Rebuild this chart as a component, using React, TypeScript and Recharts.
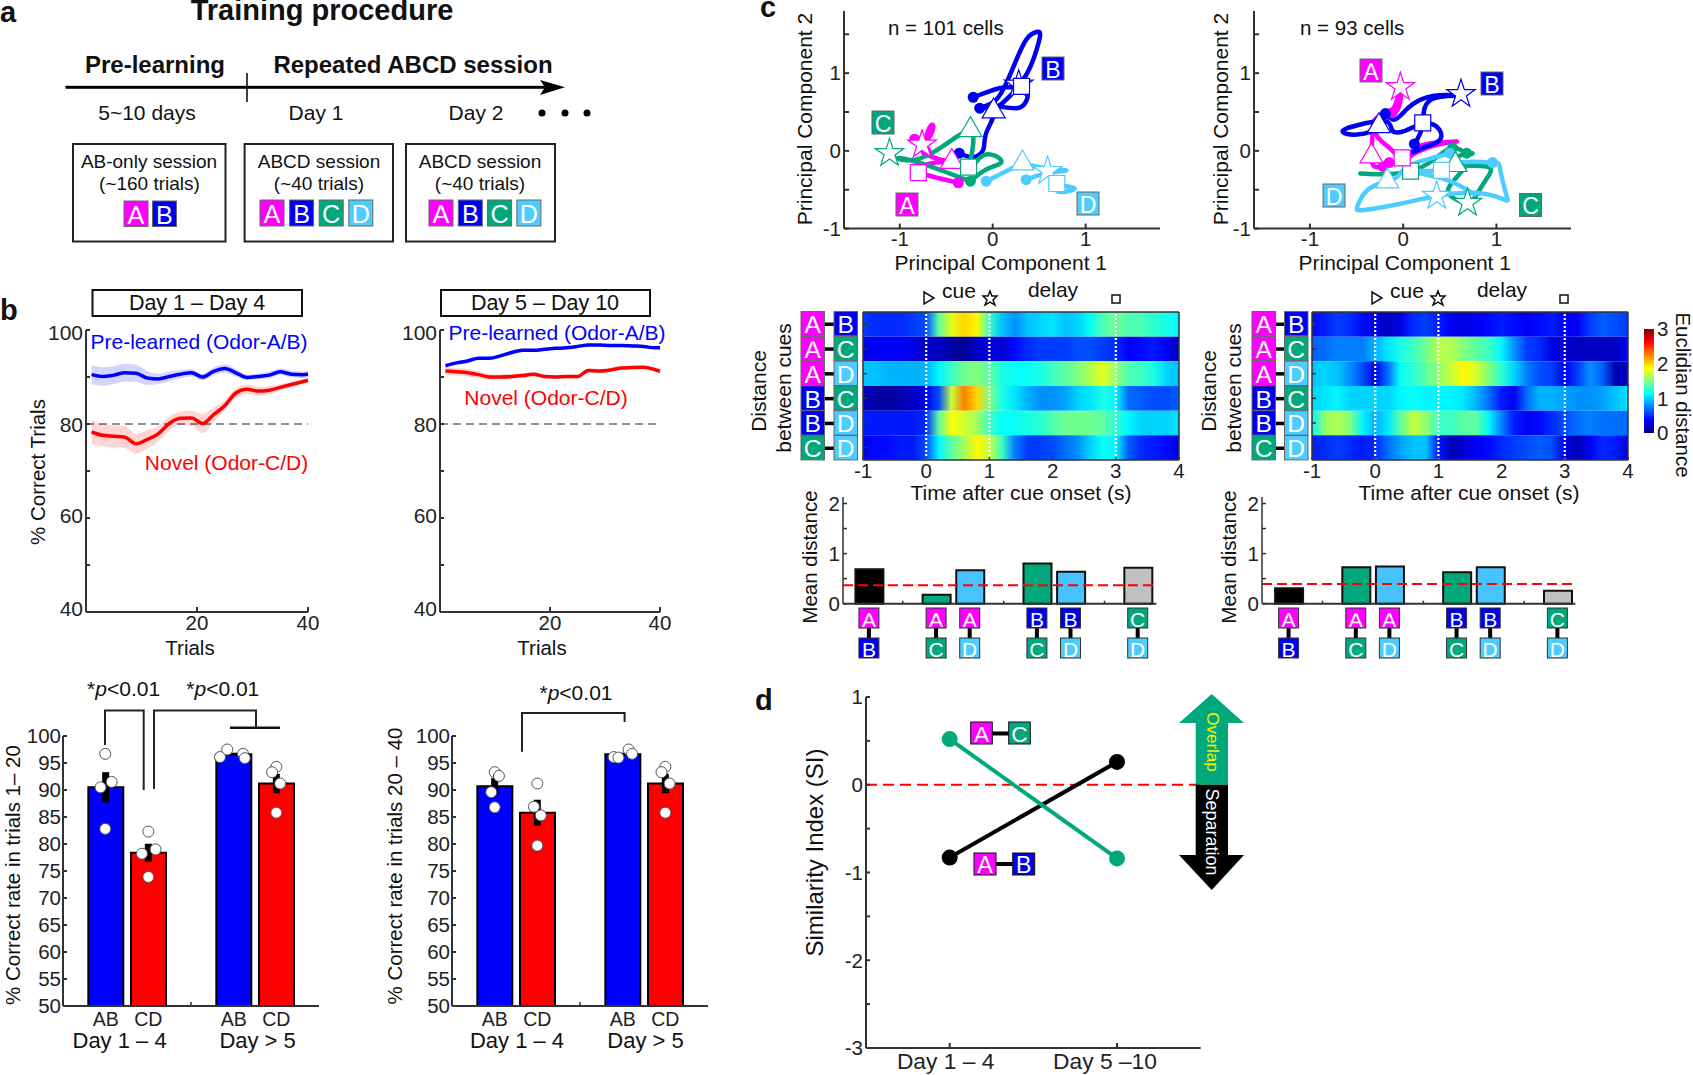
import {
  Area,
  Bar,
  Cell,
  ComposedChart,
  ErrorBar,
  Line,
  LineChart,
  ReferenceArea,
  ReferenceLine,
  Scatter,
  ScatterChart,
  Symbols,
  XAxis,
  YAxis,
} from "recharts";

const FONT = "'Liberation Sans', Arial, sans-serif";
const MAGENTA = "#ff00ff";
const BLUE = "#0000f0";
const GREEN = "#00a87c";
const SKY = "#4dccff";
const AXIS = "#333333";

// panel b, learning curves
const trials = [1, 3, 5, 7, 9, 11, 13, 15, 17, 19, 21, 23, 25, 27, 29, 31, 33, 35, 37, 39, 40];
const earlyAB = [90.5, 90.1, 90.4, 90.9, 90.8, 89.8, 89.6, 90.1, 90.6, 90.9, 90.0, 91.2, 91.8, 90.9, 89.9, 90.1, 90.4, 91.1, 90.6, 90.5, 90.6];
const earlyABErr = [2.0, 2.0, 1.9, 1.9, 1.8, 1.5, 1.1, 1.0, 0.9, 0.8, 0.7, 0.8, 0.9, 0.8, 0.6, 0.6, 0.7, 0.7, 0.7, 0.7, 0.7];
const earlyCD = [78.3, 77.6, 77.4, 77.2, 75.8, 76.7, 77.9, 80.1, 81.2, 81.3, 80.1, 82.0, 83.9, 86.6, 87.4, 87.0, 87.2, 87.8, 88.4, 89.0, 89.3];
const earlyCDErr = [2.5, 2.4, 2.3, 2.3, 2.1, 1.9, 1.6, 1.5, 1.4, 1.6, 2.0, 1.5, 1.1, 1.0, 1.0, 0.9, 0.85, 0.7, 0.6, 0.5, 0.4];
const lateAB = [92.4, 93.0, 93.4, 94.0, 94.0, 94.5, 95.2, 95.7, 95.7, 95.9, 96.1, 96.2, 96.5, 96.8, 96.8, 96.7, 96.7, 96.6, 96.5, 96.2, 96.2];
const lateABErr = [0.4, 0.4, 0.4, 0.3, 0.3, 0.3, 0.3, 0.3, 0.3, 0.3, 0.3, 0.3, 0.3, 0.3, 0.3, 0.3, 0.3, 0.3, 0.3, 0.3, 0.3];
const lateCD = [91.3, 91.1, 90.9, 90.5, 90.0, 90.0, 90.1, 90.3, 90.6, 90.1, 90.0, 90.1, 90.1, 91.4, 91.3, 91.5, 91.9, 92.0, 92.1, 91.6, 91.2];
const lateCDErr = [0.8, 0.8, 0.8, 0.7, 0.6, 0.5, 0.5, 0.5, 0.4, 0.4, 0.4, 0.4, 0.4, 0.4, 0.4, 0.4, 0.4, 0.4, 0.4, 0.4, 0.4];
const curveYTicks = [40, 50, 60, 70, 80, 90, 100];

// panel b, bars (x: 1 AB, 2 CD, 4 AB, 5 CD)
const barX = [1, 2, 4, 5];
const barNames = ["AB", "CD", "", "AB", "CD"];
const barFills = ["#0000ff", "#ff0000", "#0000ff", "#ff0000"];
const rateTicks = [50, 55, 60, 65, 70, 75, 80, 85, 90, 95, 100];
const rateEarly = [90.5, 78.4, 96.6, 91.2];
const rateEarlyErr = [2.8, 1.65, 0.3, 1.8];
const rateLate = [90.7, 85.8, 96.6, 91.2];
const rateLateErr = [1.5, 2.4, 0.3, 1.8];
const rateEarlyDots = [
  { x: 0.99, y: 96.7 }, { x: 1.14, y: 91.5 }, { x: 0.88, y: 90.5 }, { x: 0.99, y: 82.8 },
  { x: 2.0, y: 82.3 }, { x: 2.17, y: 79.0 }, { x: 1.85, y: 78.2 }, { x: 2.0, y: 73.9 },
  { x: 3.68, y: 96.1 }, { x: 3.85, y: 97.5 }, { x: 4.22, y: 96.7 }, { x: 4.26, y: 95.9 },
  { x: 5.0, y: 94.3 }, { x: 4.9, y: 93.3 }, { x: 5.09, y: 91.2 }, { x: 5.0, y: 85.8 },
];
const rateLateDots = [
  { x: 1.0, y: 93.3 }, { x: 1.1, y: 92.6 }, { x: 0.92, y: 89.6 }, { x: 1.0, y: 86.8 },
  { x: 2.0, y: 91.2 }, { x: 1.92, y: 86.9 }, { x: 2.08, y: 85.3 }, { x: 2.0, y: 79.7 },
  { x: 3.79, y: 96.1 }, { x: 3.9, y: 96.0 }, { x: 4.14, y: 97.5 }, { x: 4.22, y: 96.7 },
  { x: 5.0, y: 94.3 }, { x: 4.91, y: 93.3 }, { x: 5.1, y: 91.2 }, { x: 5.0, y: 85.8 },
];

// panel c, PCA trajectories
const pts = (list: number[][]) => list.map(([x, y]) => ({ x, y }));
const pca1A = pts([[-0.84, 0.15], [-0.72, 0.12], [-0.64, 0.3], [-0.68, 0.3], [-0.73, 0.1], [-0.72, -0.03], [-0.57, -0.11], [-0.44, -0.14], [-0.61, -0.15], [-0.8, -0.26], [-0.37, -0.41]]);
const pca1B = pts([[-0.36, -0.03], [-0.21, -0.08], [-0.1, 0.02], [-0.07, 0.23], [0.01, 0.51], [-0.14, 0.55], [0.0, 0.62], [0.13, 0.83], [0.24, 1.13], [0.36, 1.43], [0.47, 1.53], [0.51, 1.48], [0.45, 1.22], [0.33, 0.92], [0.11, 0.62], [0.08, 0.57], [0.26, 0.55], [0.36, 0.64], [0.35, 0.77], [0.15, 0.82], [-0.03, 0.77], [-0.21, 0.69]]);
const pca1C = pts([[-0.24, -0.39], [-0.07, -0.24], [0.09, -0.15], [0.02, -0.06], [-0.14, -0.09], [-0.25, -0.2], [-0.24, 0.25], [-0.72, -0.07], [-1.02, -0.09], [-0.72, -0.18], [-0.25, -0.39]]);
const pca1D = pts([[-0.07, -0.39], [0.08, -0.3], [0.32, -0.18], [0.54, -0.22], [0.79, -0.25], [0.58, -0.29], [0.36, -0.37], [0.58, -0.3], [0.69, -0.42], [0.88, -0.48], [0.74, -0.53], [0.65, -0.45]]);
const pca2A = pts([[-0.22, -0.2], [-0.31, -0.2], [-0.34, -0.07], [-0.33, 0.19], [-0.29, 0.42], [-0.12, 0.51], [-0.03, 0.79], [-0.06, 0.53], [-0.24, 0.36], [-0.28, 0.19], [-0.13, 0.02], [-0.01, -0.09], [0.12, 0.02], [0.3, 0.1], [0.57, 0.12], [0.41, 0.09], [0.08, -0.07], [0.05, -0.25]]);
const pca2B = pts([[0.12, 0.09], [0.21, 0.34], [0.3, 0.66], [0.62, 0.71], [0.33, 0.71], [0.05, 0.55], [-0.1, 0.4], [-0.19, 0.48], [-0.26, 0.32], [-0.49, 0.21], [-0.65, 0.25], [-0.49, 0.33], [-0.19, 0.38], [-0.12, 0.27], [0.0, 0.25], [0.21, 0.35], [0.37, 0.3], [0.4, 0.15], [0.26, 0.06], [0.1, -0.02]]);
const pca2C = pts([[-0.46, -0.29], [-0.24, -0.3], [0.08, -0.26], [0.33, -0.11], [0.53, 0.04], [0.68, -0.03], [0.74, -0.03], [0.59, -0.07], [0.56, -0.18], [0.89, -0.2], [0.91, -0.33], [0.8, -0.54], [0.69, -0.67], [0.51, -0.58], [0.5, -0.45], [0.66, -0.22]]);
const pca2D = pts([[0.5, -0.03], [0.26, -0.11], [0.05, -0.2], [-0.06, -0.33], [-0.17, -0.39], [-0.38, -0.5], [-0.49, -0.71], [-0.42, -0.76], [-0.03, -0.68], [0.36, -0.58], [0.77, -0.54], [1.07, -0.62], [1.11, -0.58], [1.04, -0.24], [0.96, -0.15], [0.62, -0.15], [0.41, -0.25], [0.06, -0.26], [0.41, -0.35], [0.77, -0.56]]);

const pca1Marks = {
  A: { tri: [-0.44, -0.14], star: [-0.76, 0.08], sq: [-0.8, -0.28], dots: [[-0.84, 0.15], [-0.72, 0.0], [-0.37, -0.41]] },
  B: { tri: [0.01, 0.51], star: [0.28, 0.85], sq: [0.31, 0.83], dots: [[-0.21, 0.69], [-0.14, 0.55], [-0.36, -0.03]] },
  C: { tri: [-0.24, 0.27], star: [-1.11, -0.03], sq: [-0.26, -0.21], dots: [[-0.24, -0.39]] },
  D: { tri: [0.32, -0.16], star: [0.59, -0.26], sq: [0.69, -0.42], dots: [[0.36, -0.37], [-0.07, -0.39]] },
};
const pca2Marks = {
  A: { tri: [-0.34, -0.07], star: [-0.03, 0.82], sq: [-0.01, -0.09], dots: [[-0.22, -0.2], [-0.15, -0.15], [0.05, -0.25], [-0.12, 0.49]] },
  B: { tri: [-0.26, 0.32], star: [0.62, 0.73], sq: [0.21, 0.36], dots: [[-0.19, 0.48], [0.12, 0.09]] },
  C: { tri: [0.56, -0.18], star: [0.69, -0.67], sq: [0.08, -0.26], dots: [[0.53, 0.04], [0.68, -0.03]] },
  D: { tri: [-0.17, -0.39], star: [0.36, -0.58], sq: [0.41, -0.25], dots: [[0.5, -0.03], [0.96, -0.15]] },
};

// panel c, distance heatmaps, one row per cue pair, sampled every 0.2 s
const heatTimes = [-1, -0.8, -0.6, -0.4, -0.2, 0, 0.2, 0.4, 0.6, 0.8, 1, 1.2, 1.4, 1.6, 1.8, 2, 2.2, 2.4, 2.6, 2.8, 3, 3.2, 3.4, 3.6, 3.8, 4];
const rowPairs = [["A", "B"], ["A", "C"], ["A", "D"], ["B", "C"], ["B", "D"], ["C", "D"]];
const heatLeft = [
  [0.55, 0.5, 0.5, 0.5, 0.55, 0.6, 1.4, 1.8, 2.0, 1.9, 1.3, 0.95, 0.8, 0.95, 1.0, 1.05, 0.95, 1.0, 1.15, 1.35, 1.45, 1.35, 1.35, 1.25, 1.2, 1.1],
  [0.3, 0.35, 0.35, 0.35, 0.3, 0.2, 0.2, 0.1, 0.05, 0.2, 0.3, 0.25, 0.4, 0.5, 0.55, 0.55, 0.55, 0.6, 0.6, 0.55, 0.5, 0.35, 0.4, 0.45, 0.35, 0.2],
  [0.95, 0.95, 0.9, 0.9, 0.9, 0.9, 1.1, 1.3, 1.45, 1.5, 1.4, 1.2, 1.15, 1.15, 1.2, 1.3, 1.4, 1.5, 1.65, 1.8, 1.55, 1.35, 1.3, 1.2, 1.0, 0.95],
  [0.2, 0.1, 0.1, 0.15, 0.2, 0.3, 0.6, 1.7, 2.25, 2.0, 1.5, 1.2, 1.05, 0.9, 0.8, 0.8, 0.85, 1.0, 1.05, 1.2, 1.1, 0.7, 0.65, 0.6, 0.6, 0.65],
  [0.45, 0.45, 0.45, 0.45, 0.45, 0.5, 1.4, 1.85, 1.75, 1.6, 1.3, 1.15, 1.15, 1.2, 1.25, 1.35, 1.45, 1.45, 1.45, 1.4, 1.25, 1.1, 1.0, 1.0, 1.0, 1.05],
  [0.3, 0.4, 0.4, 0.45, 0.45, 0.6, 1.1, 1.4, 1.6, 1.9, 1.7, 1.3, 0.75, 0.55, 0.55, 0.6, 0.7, 0.8, 1.0, 1.15, 1.1, 0.65, 0.5, 0.45, 0.4, 0.3],
];
const heatRight = [
  [0.4, 0.45, 0.55, 0.5, 0.4, 0.3, 0.2, 0.3, 0.5, 0.55, 0.45, 0.35, 0.3, 0.35, 0.4, 0.45, 0.4, 0.35, 0.4, 0.45, 0.35, 0.35, 0.55, 0.65, 0.6, 0.55],
  [0.65, 0.7, 0.75, 0.75, 0.75, 0.9, 1.05, 1.2, 1.3, 1.45, 1.65, 1.65, 1.5, 1.4, 1.3, 1.1, 0.8, 0.55, 0.5, 0.3, 0.25, 0.2, 0.2, 0.2, 0.2, 0.35],
  [0.95, 1.0, 0.95, 0.8, 0.6, 0.3, 0.7, 1.15, 1.25, 1.4, 1.55, 1.7, 1.9, 1.75, 1.5, 1.25, 1.0, 0.75, 0.6, 0.55, 0.35, 0.55, 0.8, 0.65, 0.15, 0.2],
  [1.0, 1.05, 1.1, 1.0, 1.0, 1.0, 1.0, 1.1, 1.15, 1.1, 1.1, 1.1, 1.05, 0.9, 0.7, 0.45, 0.35, 0.7, 0.9, 0.9, 0.85, 0.8, 0.8, 0.85, 0.95, 1.05],
  [1.1, 1.55, 1.65, 1.5, 1.1, 0.9, 1.05, 1.4, 1.7, 1.55, 1.3, 1.3, 1.4, 1.4, 1.1, 0.75, 0.45, 0.35, 0.4, 0.5, 0.6, 0.7, 0.75, 0.7, 0.7, 0.7],
  [0.45, 0.5, 0.55, 0.5, 0.45, 0.5, 0.7, 0.85, 0.95, 0.95, 0.45, 0.15, 0.25, 0.35, 0.4, 0.5, 0.55, 0.6, 0.65, 0.6, 0.3, 0.15, 0.35, 0.5, 0.45, 0.25],
];
const colorbarValues = [0, 0.375, 0.75, 1.125, 1.5, 1.875, 2.25, 2.625, 3];

// panel c, mean distance bars
const pairX = [1, 3, 4, 6, 7, 9];
const pairFills = ["#000000", GREEN, "#47c4ff", GREEN, "#47c4ff", "#c0c0c0"];
const meanLeft = [0.69, 0.18, 0.67, 0.8, 0.64, 0.72];
const meanRight = [0.31, 0.73, 0.74, 0.63, 0.73, 0.26];
const meanLeftCut = 0.37;
const meanRightCut = 0.395;

// panel d
const simX = [1, 2];
const simDays = ["Day 1 – 4", "Day 5 –10"];
const simAB = [-0.83, 0.26];
const simAC = [0.52, -0.84];
const simTicks = [-3, -2.5, -2, -1.5, -1, -0.5, 0, 0.5, 1];

const L = 60;
const B = 50;
const P = 14;
const R = 30;

const place = (x0: number, y0: number, x1: number, y1: number) => ({
  style: { position: "absolute" as const, left: x0 - L, top: y0 - P },
  width: x1 - x0 + L + R,
  height: y1 - y0 + P + B,
  margin: { top: P, right: R, left: 0, bottom: 0 },
});

const lineStyle = { stroke: AXIS, strokeWidth: 2 };
const thin = { stroke: AXIS, strokeWidth: 1.5 };
const tickText = { fill: "#222", fontSize: 20.5, fontFamily: FONT };

const jet = (v: number) => {
  const t = Math.min(1, Math.max(0, v / 3));
  const ch = (c: number) => Math.round(255 * Math.min(1, Math.max(0, 1.5 - Math.abs(4 * t - c))));
  return `rgb(${ch(3)},${ch(2)},${ch(1)})`;
};

// the curve panels' y labels sit a little off their tick marks
const curveLabelShift: any = { 100: 2, 80: 0, 60: -3, 40: -4 };
const CurveYTick = ({ x, y, payload }: any) =>
  payload.value % 20 === 0 ? (
    <text x={x} y={y + curveLabelShift[payload.value]} textAnchor="end" dominantBaseline="central" fontSize={21} fontFamily={FONT} fill="#222">
      {payload.value}
    </text>
  ) : (
    <g />
  );

function CurvePanel({ x0, x1, ab, abErr, cd, cdErr }: any) {
  const rows = trials.map((t, i) => ({
    trial: t,
    ab: ab[i],
    cd: cd[i],
    abBand: [ab[i] - abErr[i], ab[i] + abErr[i]],
    cdBand: [cd[i] - cdErr[i], cd[i] + cdErr[i]],
  }));
  return (
    <ComposedChart {...place(x0, 330, x1, 612)} data={rows}>
      <XAxis type="number" dataKey="trial" domain={[0, 40]} ticks={[20, 40]} interval={0} height={B}
        axisLine={lineStyle} tickLine={lineStyle} tickSize={-5} tickMargin={8} tick={tickText} />
      <YAxis domain={[40, 100]} ticks={curveYTicks} interval={0} width={L} axisLine={lineStyle} tickLine={lineStyle}
        tickSize={-4} tickMargin={7} tick={CurveYTick} />
      <Area dataKey="abBand" stroke="none" fill="#0000ff" fillOpacity={0.17} dot={false} activeDot={false} isAnimationActive={false} type="monotone" />
      <Area dataKey="cdBand" stroke="none" fill="#ff0000" fillOpacity={0.17} dot={false} activeDot={false} isAnimationActive={false} type="monotone" />
      <ReferenceLine y={80} stroke="#222" strokeWidth={1.2} strokeDasharray="8 5" />
      <Line dataKey="ab" stroke="#0000ff" strokeWidth={3.5} dot={false} isAnimationActive={false} type="monotone" />
      <Line dataKey="cd" stroke="#ff0000" strokeWidth={3.5} dot={false} isAnimationActive={false} type="monotone" />
    </ComposedChart>
  );
}

const RateTick = ({ x, y, payload }: any) => {
  const name = barNames[payload.value - 1];
  if (!name) return <line x1={x} x2={x} y1={y - 4} y2={y} stroke={AXIS} strokeWidth={1.5} />;
  return (
    <text x={x} y={y + 20} textAnchor="middle" fontSize={19.5} fontFamily={FONT} fill="#222">
      {name}
    </text>
  );
};

function RatePanel({ x0, values, errs, dots }: any) {
  const rows = barX.map((x, i) => ({ x, value: values[i], err: errs[i] }));
  const box = place(x0, 736, x0 + 256, 1006);
  return (
    <>
      <ComposedChart {...box} data={rows}>
        <XAxis type="number" dataKey="x" domain={[0, 6]} ticks={[1, 2, 3, 4, 5]} interval={0} height={B}
          axisLine={lineStyle} tickLine={false} tickSize={0} tickMargin={0} tick={RateTick} />
        <YAxis domain={[50, 100]} ticks={rateTicks} interval={0} width={L} axisLine={lineStyle} tickLine={lineStyle}
          tickSize={-4} tickMargin={6} tick={tickText} />
        <Bar dataKey="value" barSize={35} stroke="#000" strokeWidth={2} isAnimationActive={false}>
          {rows.map((_, i) => (
            <Cell key={i} fill={barFills[i]} />
          ))}
        </Bar>
      </ComposedChart>
      {/* dots and error bars in a second layer: their close x values would squeeze the bars */}
      <ScatterChart {...box}>
        <XAxis type="number" dataKey="x" domain={[0, 6]} height={B} axisLine={false} tickLine={false} tick={false} />
        <YAxis type="number" domain={[50, 100]} width={L} axisLine={false} tickLine={false} tick={false} />
        <Scatter data={dots} dataKey="y" isAnimationActive={false}
          shape={(p: any) => <circle cx={p.cx} cy={p.cy} r={5.5} fill="#fff" stroke="#555" strokeWidth={1} />} />
        <Scatter data={rows} dataKey="value" isAnimationActive={false} shape={() => <g />}>
          <ErrorBar dataKey="err" direction="y" width={0} strokeWidth={7} stroke="#000" isAnimationActive={false} />
        </Scatter>
      </ScatterChart>
    </>
  );
}

const symbolShape = (type: any, size: number, color: string) => (p: any) =>
  <Symbols type={type} size={size} cx={p.cx} cy={p.cy} fill="#fff" stroke={color} strokeWidth={1.2} />;
const dotShape = (color: string) => (p: any) => <circle cx={p.cx} cy={p.cy} r={5.5} fill={color} />;

function PcaPanel({ x0, x1, series, marks }: any) {
  const colorOf: any = { A: MAGENTA, B: BLUE, C: GREEN, D: SKY };
  const keys: string[] = series.map((s: any) => s.key);
  return (
    <ScatterChart {...place(x0, 11.4, x1, 229)}>
      <XAxis type="number" dataKey="x" domain={[-1.6, 1.8]} ticks={[-1, 0, 1]} interval={0} height={B}
        axisLine={lineStyle} tickLine={lineStyle} tickSize={-5} tickMargin={8} tick={tickText} />
      <YAxis type="number" domain={[-1, 1.8]} ticks={[-1, -0.5, 0, 0.5, 1, 1.5]} interval={0} width={L}
        axisLine={lineStyle} tickLine={lineStyle} tickSize={-5} tickMargin={8} tick={tickText}
        tickFormatter={(v: number) => (Number.isInteger(v) ? String(v) : "")} />
      {series.map((s: any) => (
        <Scatter key={s.key} data={s.data} dataKey="y" isAnimationActive={false} shape={() => <g />}
          line={{ stroke: colorOf[s.key], strokeWidth: 4.5, strokeLinejoin: "round", strokeLinecap: "round" }}
          lineJointType="natural" />
      ))}
      {keys.map((k) => (
        <Scatter key={k + "d"} data={pts(marks[k].dots)} dataKey="y" isAnimationActive={false} shape={dotShape(colorOf[k])} />
      ))}
      {keys.map((k) => (
        <Scatter key={k + "t"} data={pts([marks[k].tri])} dataKey="y" isAnimationActive={false} shape={symbolShape("triangle", 229, colorOf[k])} />
      ))}
      {keys.map((k) => (
        <Scatter key={k + "s"} data={pts([marks[k].star])} dataKey="y" isAnimationActive={false} shape={symbolShape("star", 250, colorOf[k])} />
      ))}
      {keys.map((k) => (
        <Scatter key={k + "q"} data={pts([marks[k].sq])} dataKey="y" isAnimationActive={false} shape={symbolShape("square", 256, colorOf[k])} />
      ))}
    </ScatterChart>
  );
}

function Heatmap({ id, x0, x1, rows }: any) {
  // one invisible series so the axes have something to belong to
  const frame = [{ t: -1, v: 0 }, { t: 4, v: 6 }];
  return (
    <ComposedChart {...place(x0, 312, x1, 460)} data={frame}>
      <defs>
        {rows.map((row: number[], r: number) => (
          <linearGradient key={r} id={`${id}${r}`} x1="0" x2="1" y1="0" y2="0">
            {row.map((v, i) => (
              <stop key={i} offset={(heatTimes[i] + 1) / 5} stopColor={jet(v)} />
            ))}
          </linearGradient>
        ))}
      </defs>
      <XAxis type="number" dataKey="t" domain={[-1, 4]} ticks={[-1, 0, 1, 2, 3, 4]} interval={0} height={B}
        axisLine={thin} tickLine={thin} tickSize={-3} tickMargin={6} tick={tickText} />
      <YAxis type="number" reversed domain={[0, 6]} ticks={[0.5, 1.5, 2.5, 3.5, 4.5, 5.5]} interval={0} width={L}
        axisLine={thin} tickLine={thin} tickSize={-4} tickFormatter={() => ""} />
      <Line dataKey="v" stroke="none" dot={false} isAnimationActive={false} />
      {rows.map((_: number[], r: number) => (
        <ReferenceArea key={r} x1={-1} x2={4} y1={r} y2={r + 1} fill={`url(#${id}${r})`} fillOpacity={1} stroke="none" />
      ))}
      {[0, 1, 3].map((t) => (
        <ReferenceLine key={t} x={t} stroke="#fff" strokeWidth={2.2} strokeDasharray="2 2" />
      ))}
      <ReferenceLine x={4} stroke={AXIS} strokeWidth={1.5} />
      <ReferenceLine y={0} stroke={AXIS} strokeWidth={1.5} />
    </ComposedChart>
  );
}

function Colorbar() {
  return (
    <ComposedChart style={{ position: "absolute", left: 1644, top: 321 }} width={49} height={120}
      margin={{ top: 8, bottom: 8, left: 0, right: 0 }} data={[{ u: 0, v: 0 }, { u: 1, v: 3 }]}>
      <defs>
        <linearGradient id="jetbar" x1="0" x2="0" y1="1" y2="0">
          {colorbarValues.map((v, i) => (
            <stop key={i} offset={v / 3} stopColor={jet(v)} />
          ))}
        </linearGradient>
      </defs>
      <XAxis hide type="number" dataKey="u" domain={[0, 1]} />
      <YAxis orientation="right" type="number" domain={[0, 3]} ticks={[0, 1, 2, 3]} interval={0} width={39} axisLine={false}
        tickLine={false} tickSize={0} tickMargin={3} tick={tickText} />
      <Line dataKey="v" stroke="none" dot={false} isAnimationActive={false} />
      <ReferenceArea x1={0} x2={1} y1={0} y2={3} fill="url(#jetbar)" fillOpacity={1} stroke="none" />
    </ComposedChart>
  );
}

function MeanBars({ x0, x1, lo, values, cut }: any) {
  const rows = pairX.map((x, i) => ({ x, value: values[i] }));
  return (
    <ComposedChart {...place(x0, 497, x1, 603.7)} data={rows}>
      <XAxis type="number" dataKey="x" domain={[lo, lo + 9.32]} ticks={[2, 5, 8]} interval={0} height={B}
        axisLine={lineStyle} tickLine={thin} tickSize={-3} tickFormatter={() => ""} />
      <YAxis domain={[0, 2.13]} ticks={[0, 0.5, 1, 1.5, 2]} interval={0} width={L} axisLine={thin} tickLine={thin}
        tickSize={-4} tickMargin={7} tick={tickText} tickFormatter={(v: number) => (Number.isInteger(v) ? String(v) : "")} />
      <Bar dataKey="value" barSize={28} stroke="#111" strokeWidth={2} isAnimationActive={false}>
        {rows.map((_, i) => (
          <Cell key={i} fill={pairFills[i]} />
        ))}
      </Bar>
      <ReferenceLine y={cut} stroke="#ff0000" strokeWidth={2} strokeDasharray="10 5" />
    </ComposedChart>
  );
}

const simLabelShift = [-4, -12];
const SimTick = ({ x, y, payload }: any) => (
  <text x={x + simLabelShift[payload.value - 1]} y={y + 2} textAnchor="middle" dominantBaseline="hanging" fontSize={22.8} fontFamily={FONT} fill="#222">
    {simDays[payload.value - 1]}
  </text>
);

function SimilarityPanel() {
  const rows = simX.map((x, i) => ({ x, ab: simAB[i], ac: simAC[i] }));
  return (
    <LineChart {...place(866, 696.7, 1200.7, 1047.7)} data={rows}>
      <XAxis type="number" dataKey="x" domain={[0.5, 2.5]} ticks={simX} interval={0} height={B} axisLine={lineStyle}
        tickLine={lineStyle} tickSize={-5} tickMargin={7} tick={SimTick} />
      <YAxis domain={[-3, 1]} ticks={simTicks} interval={0} width={L} axisLine={lineStyle} tickLine={lineStyle}
        tickSize={-4} tickMargin={7} tick={tickText} tickFormatter={(v: number) => (Number.isInteger(v) ? String(v) : "")} />
      <ReferenceLine y={0} stroke="#ff0000" strokeWidth={2} strokeDasharray="11 6" />
      <Line dataKey="ab" stroke="#000" strokeWidth={4} dot={{ r: 6, fill: "#000", stroke: "#000" }} isAnimationActive={false} />
      <Line dataKey="ac" stroke="#00a87c" strokeWidth={4} dot={{ r: 6, fill: "#00a87c", stroke: "#00a87c" }} isAnimationActive={false} />
    </LineChart>
  );
}

// overlay helpers
const T = ({ x, y, s = 20.5, a = "middle", w, c = "#111", r, i, children }: any) => (
  <text x={x} y={y} fontSize={s} textAnchor={a} fontWeight={w} fill={c} fontStyle={i ? "italic" : undefined}
    dominantBaseline="central" fontFamily={FONT} transform={r ? `rotate(${r} ${x} ${y})` : undefined}>
    {children}
  </text>
);

const tagColor: any = { A: MAGENTA, B: BLUE, C: GREEN, D: SKY };
const Tag = ({ x, y, w = 22, h = 23, l, k = "#666" }: any) => (
  <g>
    <rect x={x} y={y} width={w} height={h} fill={tagColor[l]} stroke={k} strokeWidth={1} />
    <text x={x + w / 2} y={y + h / 2 + 1} fontSize={Math.min(w, h) * 1.05} textAnchor="middle" dominantBaseline="central"
      fill="#fff" fontFamily={FONT}>
      {l}
    </text>
  </g>
);

const PairRows = ({ ax, bx }: any) => (
  <g>
    {rowPairs.map(([a, b], i) => {
      const y = 311.5 + i * 24.8;
      return (
        <g key={i}>
          <rect x={ax + 23} y={y + 11} width={bx - ax - 23} height={3.5} fill="#000" />
          <Tag x={ax} y={y} w={23.5} h={24.4} l={a} />
          <Tag x={bx} y={y} w={23.5} h={24.4} l={b} />
        </g>
      );
    })}
  </g>
);

const PairColumn = ({ x0, lo }: any) => (
  <g>
    {pairX.map((p, i) => {
      const cx = x0 + (p - lo) * 33.6;
      const [a, b] = rowPairs[i];
      return (
        <g key={i}>
          <rect x={cx - 2} y={626} width={4} height={14} fill="#000" />
          <Tag x={cx - 10} y={608} w={20} h={20} l={a} k="#333" />
          <Tag x={cx - 10} y={638} w={20} h={20} l={b} k="#333" />
        </g>
      );
    })}
  </g>
);

const CueIcons = ({ dx }: any) => (
  <g fill="#fff" stroke="#111" strokeWidth={1.5}>
    <polygon points={`${924 + dx},292 ${934 + dx},298 ${924 + dx},304`} />
    <polygon points={`${990 + dx},291 ${992 + dx},296 ${997 + dx},296 ${993 + dx},300 ${995 + dx},305 ${990 + dx},302 ${985 + dx},305 ${987 + dx},300 ${983 + dx},296 ${988 + dx},296`} />
    <rect x={1112 + dx} y={295} width={8} height={8} />
  </g>
);

function Overlay() {
  const line = { stroke: "#222", strokeWidth: 2, fill: "none" };
  return (
    <svg width={1693} height={1075} style={{ position: "absolute", left: 0, top: 0, pointerEvents: "none" }}>
      {/* panel a */}
      <T x={0} y={12} s={29} w="bold" a="start">a</T>
      <T x={322} y={10} s={29} w="bold">Training procedure</T>
      <T x={155} y={64} s={24} w="bold">Pre-learning</T>
      <T x={413} y={64} s={24} w="bold">Repeated ABCD session</T>
      <rect x={65.5} y={85.8} width={480} height={3} fill="#000" />
      <polygon points="540,80 565,87.3 540,95 545,87.3" fill="#000" />
      <line x1={247} x2={247} y1={73} y2={102} stroke="#000" strokeWidth={1.5} />
      <T x={147} y={112} s={21}>5~10 days</T>
      <T x={316} y={112} s={21}>Day 1</T>
      <T x={476} y={112} s={21}>Day 2</T>
      {[542, 565, 587].map((x) => <circle key={x} cx={x} cy={113} r={3.5} fill="#000" />)}
      <rect x={73} y={144} width={152.5} height={97.5} fill="none" stroke="#222" strokeWidth={2} />
      <rect x={244.6} y={144} width={148.4} height={97.5} fill="none" stroke="#222" strokeWidth={2} />
      <rect x={406} y={144} width={149} height={97.5} fill="none" stroke="#222" strokeWidth={2} />
      <T x={149} y={161} s={19}>AB-only session</T>
      <T x={149.5} y={183} s={19}>(~160 trials)</T>
      <T x={319} y={161} s={19}>ABCD session</T>
      <T x={319} y={183} s={19}>(~40 trials)</T>
      <T x={480} y={161} s={19}>ABCD session</T>
      <T x={480} y={183} s={19}>(~40 trials)</T>
      <Tag x={124} y={201} w={24} h={25.5} l="A" />
      <Tag x={152.5} y={201} w={24} h={25.5} l="B" />
      {["A", "B", "C", "D"].map((l, i) => <Tag key={l} x={260 + i * 29.6} y={200} w={24} h={26} l={l} />)}
      {["A", "B", "C", "D"].map((l, i) => <Tag key={l} x={429 + i * 29.3} y={200} w={24} h={26} l={l} />)}

      {/* panel b, curves */}
      <T x={0} y={310} s={29} w="bold" a="start">b</T>
      <rect x={92.5} y={290} width={209.5} height={26} fill="#fff" stroke="#111" strokeWidth={2} />
      <rect x={441} y={290} width={209} height={26} fill="#fff" stroke="#111" strokeWidth={2} />
      <T x={197} y={302.5} s={21.5}>Day 1 – Day 4</T>
      <T x={545} y={302.5} s={21.5}>Day 5 – Day 10</T>
      <T x={37} y={472} r={-90}>% Correct Trials</T>
      <T x={199} y={341} s={21} c="#0000ff">Pre-learned (Odor-A/B)</T>
      <T x={226.5} y={462} s={21} c="#ff0000">Novel (Odor-C/D)</T>
      <T x={557} y={332} s={21} c="#0000ff">Pre-learned (Odor-A/B)</T>
      <T x={546} y={397} s={21} c="#ff0000">Novel (Odor-C/D)</T>
      <T x={190} y={647}>Trials</T>
      <T x={542} y={647}>Trials</T>

      {/* panel b, bars */}
      <T x={12.5} y={875} r={-90}>% Correct rate in trials 1– 20</T>
      <T x={394} y={866} r={-90}>% Correct rate in trials 20 – 40</T>
      <T x={119.6} y={1040} s={22}>Day 1 – 4</T>
      <T x={257.6} y={1040} s={22}>Day &gt; 5</T>
      <T x={517} y={1040} s={22}>Day 1 – 4</T>
      <T x={645.5} y={1040} s={22}>Day &gt; 5</T>
      <text x={123.6} y={696} fontSize={21} textAnchor="middle" fontFamily={FONT} fill="#111">*<tspan fontStyle="italic">p</tspan>&lt;0.01</text>
      <text x={222.8} y={696} fontSize={21} textAnchor="middle" fontFamily={FONT} fill="#111">*<tspan fontStyle="italic">p</tspan>&lt;0.01</text>
      <text x={576} y={700} fontSize={21} textAnchor="middle" fontFamily={FONT} fill="#111">*<tspan fontStyle="italic">p</tspan>&lt;0.01</text>
      <polyline points="105,745 105,710.5 143.7,710.5 143.7,790" {...line} />
      <polyline points="154,789 154,710.5 256,710.5 256,727.7" {...line} />
      <line x1={230} x2={280} y1={727.7} y2={727.7} stroke="#111" strokeWidth={2.5} />
      <polyline points="522,751.7 522,713 624.6,713 624.6,722" {...line} />

      {/* panel c */}
      <T x={760} y={7} s={29} w="bold" a="start">c</T>
      <T x={804} y={119} s={21} r={-90}>Principal Component 2</T>
      <T x={1220} y={119} s={21} r={-90}>Principal Component 2</T>
      <T x={1000.8} y={262.7} s={21}>Principal Component 1</T>
      <T x={1404.7} y={262.7} s={21}>Principal Component 1</T>
      <T x={888} y={27} a="start">n = 101 cells</T>
      <T x={1300} y={27} a="start">n = 93 cells</T>
      <Tag x={1042} y={57} l="B" />
      <Tag x={872} y={111} l="C" />
      <Tag x={896} y={193} l="A" />
      <Tag x={1077} y={192} l="D" />
      <Tag x={1360} y={59} l="A" />
      <Tag x={1481} y={72} l="B" />
      <Tag x={1323} y={184} l="D" />
      <Tag x={1519.5} y={193.5} l="C" />

      <T x={959} y={290} s={21}>cue</T>
      <T x={1053} y={289} s={21}>delay</T>
      <T x={1407} y={290} s={21}>cue</T>
      <T x={1502} y={289} s={21}>delay</T>
      <CueIcons dx={0} />
      <CueIcons dx={448} />
      <PairRows ax={801} bx={834} />
      <PairRows ax={1252} bx={1284.5} />
      <T x={758} y={391} s={21} r={-90}>Distance</T>
      <T x={783} y={388} s={21} r={-90}>between cues</T>
      <T x={1208} y={391} s={21} r={-90}>Distance</T>
      <T x={1233} y={388} s={21} r={-90}>between cues</T>
      <T x={1021} y={492} s={21}>Time after cue onset (s)</T>
      <T x={1469} y={492} s={21}>Time after cue onset (s)</T>
      <T x={1683} y={395} s={20.5} r={90}>Euclidian distance</T>
      <T x={809} y={557} r={-90}>Mean distance</T>
      <T x={1228} y={557} r={-90}>Mean distance</T>
      <PairColumn x0={842.7} lo={0.22} />
      <PairColumn x0={1261.7} lo={0.2} />

      {/* panel d */}
      <T x={755} y={700} s={29} w="bold" a="start">d</T>
      <T x={814} y={852.5} s={24} r={-90}>Similarity Index (SI)</T>
      <polygon points="1211.7,694 1244,723 1228,723 1228,784.7 1195.7,784.7 1195.7,723 1179,723" fill="#00a87c" />
      <polygon points="1195.7,784.7 1228,784.7 1228,855 1244,855 1211.7,890 1179,855 1195.7,855" fill="#000" />
      <T x={1212} y={742} s={17} c="#f4f000" r={90}>Overlap</T>
      <T x={1212} y={832} s={18} c="#fff" r={90}>Separation</T>
      <rect x={990} y={731.5} width={20} height={4} fill="#000" />
      <rect x={994} y={862} width={20} height={4} fill="#000" />
      <Tag x={970.7} y={722} w={21.6} h={22} l="A" k="#111" />
      <Tag x={1008.7} y={722} w={21.6} h={22} l="C" k="#111" />
      <Tag x={974} y={853} w={22} h={22} l="A" k="#111" />
      <Tag x={1012.7} y={853} w={22} h={22} l="B" k="#111" />
    </svg>
  );
}

export default function App() {
  return (
    <div style={{ position: "absolute", left: 0, top: 0, width: 1693, height: 1075, background: "#fff", overflow: "hidden", fontFamily: FONT }}>
      <CurvePanel x0={85.5} x1={307.5} ab={earlyAB} abErr={earlyABErr} cd={earlyCD} cdErr={earlyCDErr} />
      <CurvePanel x0={440} x1={660} ab={lateAB} abErr={lateABErr} cd={lateCD} cdErr={lateCDErr} />
      <RatePanel x0={63} values={rateEarly} errs={rateEarlyErr} dots={rateEarlyDots} />
      <RatePanel x0={452} values={rateLate} errs={rateLateErr} dots={rateLateDots} />
      <PcaPanel x0={844} x1={1160} marks={pca1Marks}
        series={[{ key: "B", data: pca1B }, { key: "A", data: pca1A }, { key: "D", data: pca1D }, { key: "C", data: pca1C }]} />
      <PcaPanel x0={1254} x1={1571} marks={pca2Marks}
        series={[{ key: "C", data: pca2C }, { key: "A", data: pca2A }, { key: "B", data: pca2B }, { key: "D", data: pca2D }]} />
      <Heatmap id="hmL" x0={863.3} x1={1179.3} rows={heatLeft} />
      <Heatmap id="hmR" x0={1312} x1={1628} rows={heatRight} />
      <Colorbar />
      <MeanBars x0={842.7} x1={1156} lo={0.22} values={meanLeft} cut={meanLeftCut} />
      <MeanBars x0={1261.7} x1={1575} lo={0.2} values={meanRight} cut={meanRightCut} />
      <SimilarityPanel />
      <Overlay />
    </div>
  );
}
